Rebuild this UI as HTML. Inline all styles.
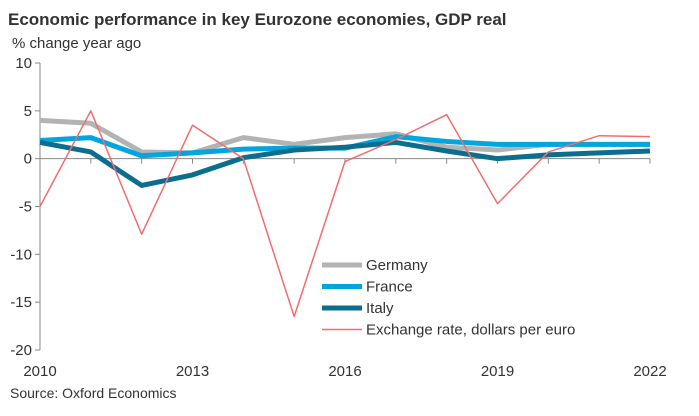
<!DOCTYPE html>
<html><head><meta charset="utf-8"><style>
body{margin:0;background:#fff;font-family:"Liberation Sans",Arial,sans-serif}
svg{display:block}
</style></head><body>
<svg id="chart" width="699" height="416">
<text x="8" y="25" font-size="17" font-weight="bold" fill="#333">Economic performance in key Eurozone economies, GDP real</text>
<text x="12" y="48" font-size="15" fill="#333">% change year ago</text>
<text x="10" y="398" font-size="14" fill="#333">Source: Oxford Economics</text>
<g id="axes"></g>
<g id="series"></g>
<g id="legend"></g>
</svg>
<script>
const years=[2010,2011,2012,2013,2014,2015,2016,2017,2018,2019,2020,2021,2022];
const germany=[4.0,3.7,0.7,0.6,2.2,1.5,2.2,2.6,1.2,0.9,1.5,1.5,1.5];
const france=[1.9,2.2,0.3,0.6,1.0,1.1,1.1,2.3,1.8,1.5,1.5,1.5,1.5];
const italy=[1.7,0.7,-2.8,-1.7,0.1,0.9,1.2,1.7,0.8,0.0,0.4,0.6,0.8];
const fx=[-5,5,-7.9,3.5,0,-16.5,-0.3,2,4.6,-4.7,0.7,2.4,2.3];
const yTicks=[10,5,0,-5,-10,-15,-20];
const xTicks=[2010,2013,2016,2019,2022];
const NS="http://www.w3.org/2000/svg";
const x0=40,x1=650,yTop=63,yBot=350;
function xs(v){return x0+(v-2010)/(2022-2010)*(x1-x0);}
function ys(v){return yTop+(10-v)/30*(yBot-yTop);}
function mk(tag,attrs,parent){const e=document.createElementNS(NS,tag);for(const k in attrs)e.setAttribute(k,attrs[k]);parent.appendChild(e);return e;}
const axes=document.getElementById('axes');
const yAxis=mk('line',{x1:x0,x2:x0,y1:yTop,y2:yBot,stroke:'#888'},axes);


yTicks.forEach(t=>{
 const tk=mk('line',{x1:x0-5,x2:x0,y1:ys(t),y2:ys(t),stroke:'#888'},axes);
 
 
 const tl=mk('text',{x:x0-8,y:ys(t)+5,'text-anchor':'end','font-size':15,fill:'#333'},axes);
 tl.textContent=t;
 
 
});
const zero=mk('line',{x1:x0,x2:x1,y1:ys(0),y2:ys(0),stroke:'#888'},axes);


years.forEach(yv=>{
 const tk=mk('line',{x1:xs(yv),x2:xs(yv),y1:ys(0),y2:ys(0)+5,stroke:'#888'},axes);
 
 
});
xTicks.forEach(yv=>{
 const tl=mk('text',{x:xs(yv),y:376,'text-anchor':'middle','font-size':15,fill:'#333'},axes);
 tl.textContent=yv;
 
 
});
const ser=document.getElementById('series');
function line(data,color,w,name){
 const p=mk('polyline',{points:data.map((v,i)=>xs(years[i])+','+ys(v)).join(' '),fill:'none',stroke:color,'stroke-width':w,'stroke-linejoin':'round'},ser);
 
 
}
line(germany,'#b3b3b3',5,'germany-line');
line(france,'#00a6de',5,'france-line');
line(italy,'#0b6e8f',5,'italy-line');
line(fx,'#f26d6d',1.5,'exchange-rate-line');
const lg=document.getElementById('legend');
[['Germany','#b3b3b3',5],['France','#00a6de',5],['Italy','#0b6e8f',5],['Exchange rate, dollars per euro','#f26d6d',1.5]].forEach((d,i)=>{
 const y=265+i*21.5;
 const g=mk('g',{},lg);
 
 
 mk('line',{x1:322,x2:362,y1:y,y2:y,stroke:d[1],'stroke-width':d[2]},g);
 const t=mk('text',{x:366,y:y+5,'font-size':15,fill:'#333'},g);
 t.textContent=d[0];
});
</script>
</body></html>
